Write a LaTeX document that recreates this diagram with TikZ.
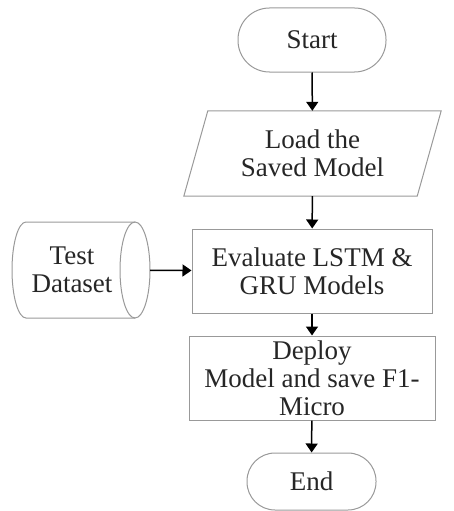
\documentclass[tikz,border=0pt]{standalone}
\usepackage{fontspec}
\setmainfont{Liberation Serif}
\usetikzlibrary{arrows.meta}
\begin{document}
\begin{tikzpicture}[x=1pt,y=-1pt,
  every node/.style={font=\fontsize{27}{28}\selectfont, text=black!85, align=center, inner sep=0pt},
  outline/.style={draw=black!40, line width=1pt},
  term/.style={outline, minimum width=148pt, minimum height=64pt},
  procbox/.style={outline, minimum height=84pt},
  ghost/.style={minimum width=233pt, minimum height=85pt},
  flow/.style={line width=1.5pt, -{Triangle[length=9pt,width=12pt]}}]
\useasboundingbox (0,0) rectangle (454,511);

% terminals and process boxes
\node[term, rounded corners=31.5pt] (start) at (312,40) {Start};
\node[ghost] (load) at (312.5,153.5) {Load the\\Saved Model};
\draw[outline] ([xshift=12pt]load.north west) -- ([xshift=12pt]load.north east)
  -- ([xshift=-12pt]load.south east) -- ([xshift=-12pt]load.south west) -- cycle;
\node[procbox, minimum width=240pt] (eval) at (312,271) {Evaluate LSTM \&\\GRU Models};
\node[procbox, minimum width=246pt] (deploy) at (312,378) {Deploy\\Model and save F1-\\Micro};
\node[term, rounded corners=28pt, minimum width=129pt, minimum height=57pt] (end) at (311.5,481.5) {End};

% stored data cylinder
\node[minimum width=138pt, minimum height=96pt] (data) at (81,270) {};
\draw[outline] (135,222) -- (26,222)
  arc[start angle=270, end angle=90, x radius=14, y radius=48] -- (135,318);
\draw[outline] (135,270) ellipse [x radius=15, y radius=48];
\node at (72,270) {Test\\Dataset};

% connectors
\draw[flow] (start) -- (load);
\draw[flow] (load) -- (eval);
\draw[flow] (data) -- (eval);
\draw[flow] (eval) -- (deploy);
\draw[flow] (deploy) -- (end);
\end{tikzpicture}
\end{document}
